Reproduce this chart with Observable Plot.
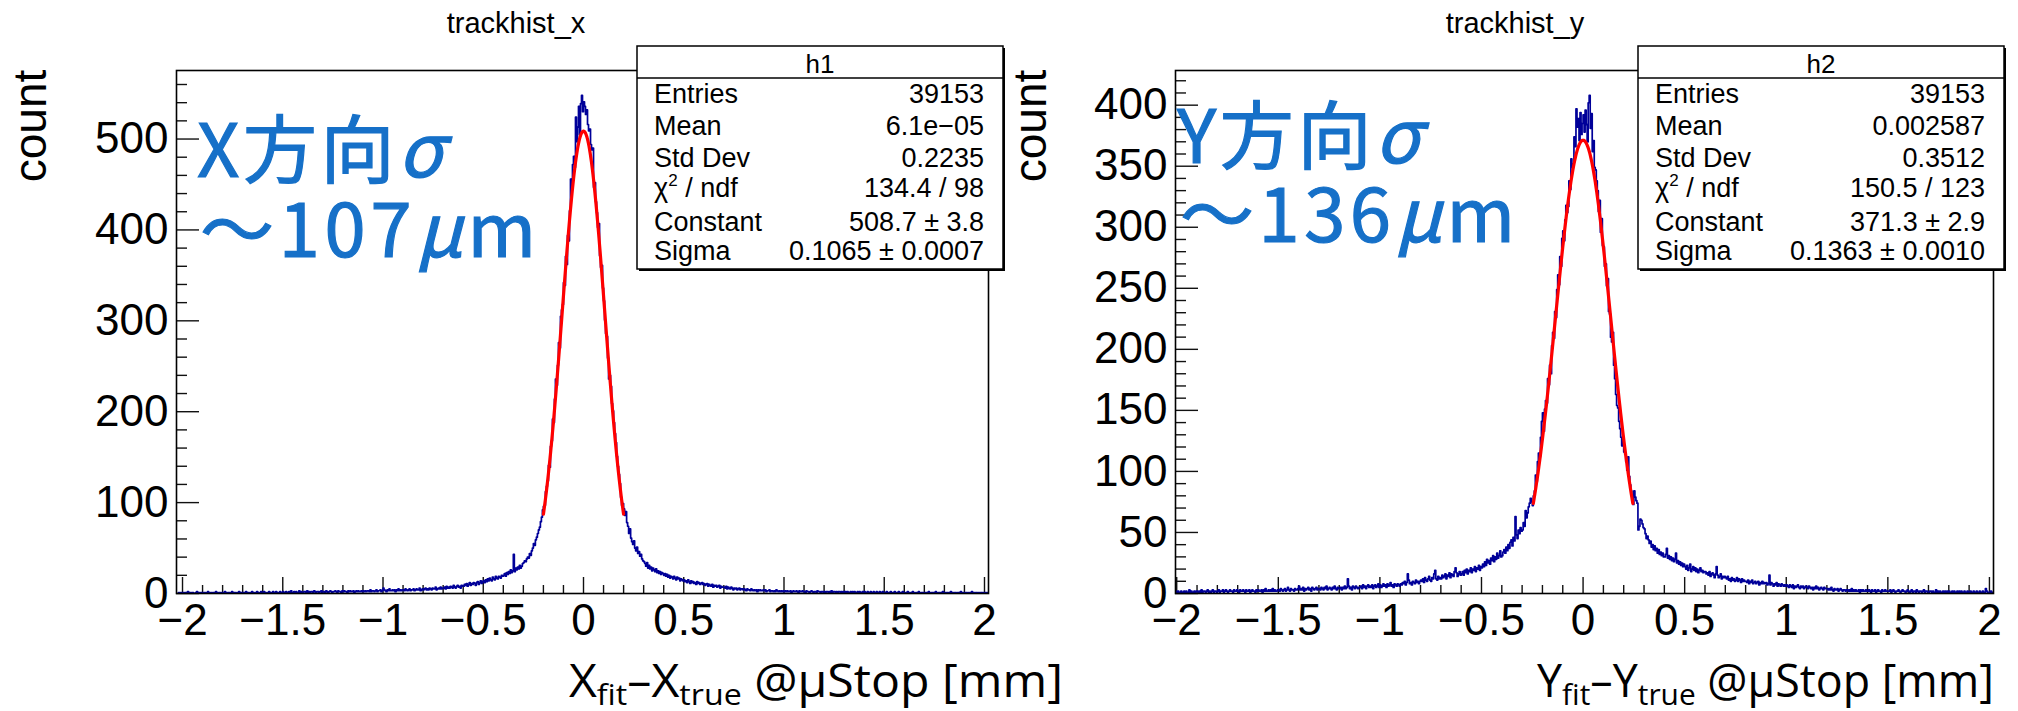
<!DOCTYPE html>
<html>
<head>
<meta charset="utf-8">
<script src="https://cdn.jsdelivr.net/npm/d3@7"></script>
<script src="https://cdn.jsdelivr.net/npm/@observablehq/plot@0.6"></script>
<style>
  body { margin: 0; background: #fff; }
  #wrap { position: relative; width: 2018px; height: 711px; overflow: hidden; background: #fff; }
  #wrap svg { position: absolute; top: 0; }
</style>
</head>
<body>
<div id="wrap"></div>
<script>
// Histogram binning shared by both residual histograms (0.005 mm bins).
const binStart = -2.025;
const binWidth = 0.005;

// trackhist_x : X_fit - X_true, counts per bin from -2.025 mm
const countsX = [
  0,1,0,1,0,
  1,0,1,1,0,2,0,1,0,1,1,0,0,1,2,0,1,0,1,1,
  0,1,1,0,1,2,1,0,1,0,1,1,0,2,1,0,1,1,0,1,
  1,0,2,1,0,1,1,0,1,2,0,1,1,0,1,1,2,0,1,1,
  1,1,0,2,1,1,0,1,1,2,1,0,1,1,2,1,0,1,2,1,
  1,2,1,0,1,1,2,1,1,0,2,1,1,2,1,1,0,2,1,1,
  2,1,1,2,0,1,2,1,3,1,1,2,1,2,1,1,3,1,2,1,
  1,2,2,1,3,1,2,1,2,2,1,3,2,1,2,2,1,2,3,1,
  2,2,1,3,2,1,2,3,2,1,2,2,3,2,1,3,2,2,1,3,
  2,3,2,2,1,3,2,3,2,2,3,1,2,3,2,3,2,2,3,2,
  3,2,3,2,3,3,2,4,2,3,3,2,3,4,2,3,3,4,2,3,
  6,4,3,2,4,3,5,3,3,4,3,4,2,4,3,5,3,4,3,4,
  4,3,5,4,3,4,5,3,4,4,5,3,4,5,4,4,6,3,4,5,
  4,5,6,4,5,4,6,5,4,6,5,5,7,4,5,6,5,7,5,6,
  6,7,5,8,6,7,6,8,7,6,9,7,6,8,9,7,8,6,9,8,
  8,10,9,11,8,10,12,9,11,10,12,11,9,12,13,10,12,14,11,13,
  14,12,15,13,16,14,17,15,14,18,16,15,19,17,16,19,18,17,20,19,
  20,22,19,23,21,24,22,26,23,25,43,24,28,26,29,27,31,28,30,33,
  34,36,35,38,40,39,44,42,47,50,55,53,59,62,66,70,73,79,84,92,
  96,97,112,118,124,141,139,162,168,192,188,214,236,229,251,276,270,305,312,318,
  342,339,371,362,394,388,421,456,448,472,481,469,524,497,513,536,505,539,548,530,
  541,536,527,532,516,509,511,494,488,490,447,452,431,419,403,407,372,359,361,336,
  322,301,286,283,259,236,240,228,209,201,188,176,166,151,140,131,121,106,97,99,
  93,86,90,78,74,66,71,61,57,54,58,50,47,51,44,46,41,43,38,36,
  35,33,30,34,28,31,27,29,25,28,26,24,27,23,25,22,24,21,23,22,
  20,22,19,21,18,20,17,19,18,16,19,17,15,18,16,17,14,16,15,14,
  15,13,14,12,15,13,11,14,12,13,11,12,10,13,11,12,10,11,12,10,
  11,9,10,11,8,10,9,8,10,7,9,8,9,7,8,9,6,8,7,7,
  7,6,8,5,7,6,5,7,6,4,6,5,6,4,5,6,4,5,5,4,
  5,4,3,5,4,4,3,5,4,3,4,3,4,2,4,3,4,3,3,4,
  3,4,2,3,3,4,2,3,3,2,3,2,4,3,2,3,2,3,2,3,
  2,3,2,3,2,2,3,1,2,3,2,2,3,2,1,3,2,2,3,2,
  2,1,3,2,2,1,2,3,2,1,2,2,1,3,2,2,1,2,2,1,
  2,1,2,2,1,2,1,3,1,2,2,1,2,1,2,2,1,2,1,2,
  1,2,1,2,1,1,2,1,2,1,2,1,1,2,1,2,1,1,2,1,
  2,1,1,2,1,1,2,0,1,2,1,1,2,1,1,2,1,0,2,1,
  1,1,2,0,1,1,2,1,1,0,2,1,1,1,2,0,1,1,2,1,
  1,0,1,2,1,1,0,1,2,1,1,0,1,1,2,1,0,1,1,1,
  0,1,1,0,2,1,0,1,1,1,0,2,1,0,1,1,0,1,2,0,
  1,0,1,1,0,1,2,0,1,0,1,1,0,1,1,0,2,1,0,1,
  0,1,1,0,1,0,1,2,0,1,0,1,1,0,1,0,1,1,0,1,
  0,1,0,1
];

// trackhist_y : Y_fit - Y_true, counts per bin from -2.025 mm
const countsY = [
  1,2,1,0,2,
  1,2,1,1,2,0,1,2,1,2,1,1,3,1,2,1,0,2,1,2,
  2,1,2,1,3,1,2,2,1,2,3,1,2,1,2,3,1,2,2,1,
  2,3,1,2,2,3,1,2,3,2,1,2,3,2,2,1,3,2,2,3,
  2,1,3,2,2,3,2,1,3,2,2,3,1,2,3,2,2,1,3,2,
  3,2,2,3,1,3,2,4,2,2,3,2,3,2,4,2,3,2,2,3,
  3,2,4,3,2,3,4,2,3,5,3,2,4,3,3,2,4,3,3,4,
  6,3,4,3,5,2,4,3,4,5,3,4,2,5,4,3,4,5,3,4,
  4,3,5,4,3,5,4,6,3,4,5,4,3,5,4,6,4,3,5,4,
  4,5,3,5,4,6,4,5,12,6,4,5,3,6,5,4,6,5,4,5,
  5,6,4,7,5,6,4,6,7,5,6,5,7,4,6,7,5,6,8,5,
  7,5,6,8,6,7,5,8,6,7,9,6,7,5,8,7,6,8,7,6,
  8,7,9,8,10,7,9,16,11,8,9,7,10,9,8,11,9,10,8,10,
  11,10,12,9,13,11,10,12,14,11,10,13,12,16,19,12,11,14,12,13,
  12,15,13,14,16,12,15,14,17,13,16,15,14,18,21,17,14,16,18,15,
  16,18,15,19,17,20,16,19,18,21,17,20,19,22,18,21,20,23,19,22,
  21,24,22,26,23,28,25,27,24,29,27,31,26,30,28,33,29,31,35,30,
  31,34,36,33,38,35,40,37,42,44,39,46,43,63,48,45,52,49,54,51,
  52,58,55,68,62,66,71,74,78,75,72,80,84,97,92,108,115,112,128,141,
  148,133,151,158,156,176,171,187,180,203,214,209,231,226,249,261,253,276,268,291,
  297,289,306,318,312,317,338,331,356,349,352,374,366,397,382,389,371,394,376,385,
  392,378,396,384,370,402,408,381,393,362,371,349,347,338,330,313,322,296,307,285,
  284,268,270,252,258,231,229,210,206,214,187,176,163,154,152,141,135,128,121,127,
  116,114,108,101,112,96,89,84,77,73,84,79,76,74,52,55,61,60,57,54,
  53,49,45,47,44,41,43,38,40,36,39,35,37,33,36,32,34,31,33,30,
  30,32,37,29,31,28,30,27,29,26,28,33,25,27,24,26,23,25,22,24,
  22,20,23,19,21,24,18,20,22,19,21,18,20,17,19,21,18,19,17,18,
  18,16,17,15,18,14,16,17,15,13,16,22,15,13,14,16,12,14,13,14,
  13,12,14,11,12,10,13,11,12,10,11,13,10,12,11,9,12,10,11,10,
  10,9,11,8,10,9,11,8,9,10,8,9,10,7,9,8,10,8,9,8,
  9,7,8,15,7,9,8,6,8,7,9,6,8,7,6,8,7,6,7,6,
  7,6,5,7,6,5,7,4,6,5,6,7,5,4,6,5,6,4,5,6,
  5,4,6,5,4,5,3,5,4,6,4,5,3,4,5,4,3,5,4,4,
  4,3,4,3,5,3,2,4,3,3,4,2,3,4,3,2,3,3,2,3,
  3,2,3,2,4,2,3,2,3,2,2,3,1,3,2,3,2,2,3,2,
  2,3,2,1,3,2,2,3,1,2,3,2,2,1,3,2,2,3,2,2,
  2,2,3,1,2,3,2,1,2,2,3,2,1,2,3,2,2,1,2,3,
  2,1,2,3,1,2,2,1,3,2,1,2,2,1,2,3,1,2,2,1,
  1,2,2,1,2,1,1,3,1,2,1,2,1,1,2,1,2,1,2,1,
  2,1,1,2,1,2,1,1,2,0,2,1,2,1,1,2,1,1,2,1,
  1,2,1,1,2,1,0,2,1,1,2,1,1,2,1,0,4,2,1,1,
  1,2,1,1
];

// Gaussian fit results (stats box values)
const fitX = { constant: 508.7, sigma: 0.1065, lo: -0.2, hi: 0.2 };
const fitY = { constant: 371.3, sigma: 0.1363, lo: -0.245, hi: 0.245 };

// Axis ticks
const xMajorTicks = [-2, -1.5, -1, -0.5, 0, 0.5, 1, 1.5, 2];
const yMajorTicksX = [0, 100, 200, 300, 400, 500];
const yMajorTicksY = [0, 50, 100, 150, 200, 250, 300, 350, 400];

// Stats box contents
const statsLabels = ["Entries", "Mean", "Std Dev", "χ2 / ndf", "Constant", "Sigma"];
const statsX = ["39153", "6.1e\u221205", "0.2235", "134.4 / 98", "508.7 \u00b1 3.8", "0.1065 \u00b1 0.0007"];
const statsY = ["39153", "0.002587", "0.3512", "150.5 / 123", "371.3 \u00b1 2.9", "0.1363 \u00b1 0.0010"];

const W = 1009, H = 711, MT = 70, MB = 118;
const fmt = d => (d < 0 ? "\u2212" : "") + Math.abs(d);

function histPanel({counts, fit, xDomain, marginLeft, marginRight, yMajor, yMinorStep, offset}) {
  const bins = counts.map((n, i) => ({x: binStart + binWidth * (i + 0.5), n}));
  const yMax = 1.05 * d3.max(counts);
  const fitCurve = d3.range(fit.lo, fit.hi + 1e-9, 0.0025)
    .map(x => ({x, y: fit.constant * Math.exp(-0.5 * (x / fit.sigma) ** 2)}));
  const xMinor = d3.range(-20, 21).map(i => i / 10).filter(v => Math.abs(v * 2 - Math.round(v * 2)) > 1e-6);
  const yMinor = d3.range(0, yMax, yMinorStep).filter(v => !yMajor.includes(v));
  const fw = W - marginLeft - marginRight;
  const fh = H - MT - MB;
  const chart = Plot.plot({
    width: W, height: H,
    marginLeft, marginRight, marginTop: MT, marginBottom: MB,
    style: {fontFamily: "'Liberation Sans', Arial, Helvetica, sans-serif", fontSize: "44px", color: "#000", background: "transparent", overflow: "visible"},
    x: {domain: xDomain, ticks: xMajorTicks, tickSize: 0, tickPadding: 10, tickFormat: fmt, label: null},
    y: {domain: [0, yMax], ticks: yMajor, tickSize: 0, tickPadding: 8, label: null},
    marks: [
      Plot.ruleX(xMinor, {x: d => d, insetTop: fh - 8, stroke: "#111", strokeWidth: 1.4}),
      Plot.ruleX(xMajorTicks, {x: d => d, insetTop: fh - 16, stroke: "#111", strokeWidth: 1.4}),
      Plot.ruleY(yMinor, {y: d => d, insetRight: fw - 11, stroke: "#111", strokeWidth: 1.4}),
      Plot.ruleY(yMajor, {y: d => d, insetRight: fw - 23, stroke: "#111", strokeWidth: 1.4}),
      Plot.line(bins, {x: "x", y: "n", curve: "step", stroke: "#000099", strokeWidth: 1.7, clip: true}),
      Plot.line(fitCurve, {x: "x", y: "y", stroke: "#ff0000", strokeWidth: 3.2}),
      Plot.frame({stroke: "#000", strokeWidth: 1.6})
    ]
  });
  chart.style.left = offset + "px";
  chart.style.position = "absolute";
  chart.style.top = "0px";
  return chart;
}

const wrap = document.getElementById("wrap");
wrap.appendChild(histPanel({counts: countsX, fit: fitX, xDomain: [-2.03, 2.02], marginLeft: 176, marginRight: 21, yMajor: yMajorTicksX, yMinorStep: 20, offset: 0}));
wrap.appendChild(histPanel({counts: countsY, fit: fitY, xDomain: [-2.006, 2.02], marginLeft: 166, marginRight: 25, yMajor: yMajorTicksY, yMinorStep: 10, offset: 1009}));

// Titles, axis captions, stats boxes and annotations
const ov = d3.select(wrap).append("svg")
  .attr("width", 2018).attr("height", 711)
  .style("left", "0px").style("pointer-events", "none");

const helv = "'Liberation Sans', Arial, Helvetica, sans-serif";

function decorate({title, titleX, countX, box, values, histName, capLetter, capX, capLen, noteX, noteBase1, noteBase2, noteLen1, noteLen2, noteDir, noteNum}) {
  ov.append("text").attr("x", titleX).attr("y", 33).attr("text-anchor", "middle")
    .attr("font-family", helv).attr("font-size", 29).text(title);

  ov.append("text").attr("transform", `translate(${countX},126) rotate(-90)`)
    .attr("text-anchor", "middle").attr("font-family", helv).attr("font-size", 46).text("count");

  // stats box
  const g = ov.append("g").attr("font-family", helv).attr("font-size", 27);
  g.append("rect").attr("x", box.x + 2).attr("y", box.y + 2).attr("width", box.w).attr("height", box.h).attr("fill", "#000");
  g.append("rect").attr("x", box.x).attr("y", box.y).attr("width", box.w).attr("height", box.h)
    .attr("fill", "#fff").attr("stroke", "#000").attr("stroke-width", 1.5);
  g.append("line").attr("x1", box.x).attr("x2", box.x + box.w).attr("y1", box.y + 32).attr("y2", box.y + 32)
    .attr("stroke", "#000").attr("stroke-width", 1.5);
  g.append("text").attr("x", box.x + box.w / 2).attr("y", box.y + 27).attr("text-anchor", "middle")
    .attr("font-size", 26).text(histName);
  const rowBase = [57, 89, 121, 151, 185, 214];
  statsLabels.forEach((lab, i) => {
    const t = g.append("text").attr("x", box.x + 17).attr("y", box.y + rowBase[i]);
    if (lab.startsWith("χ2")) {
      t.append("tspan").text("χ");
      t.append("tspan").attr("font-size", 17).attr("dy", -11).text("2");
      t.append("tspan").attr("dy", 11).text(" / ndf");
    } else {
      t.text(lab);
    }
    g.append("text").attr("x", box.x + box.w - 19).attr("y", box.y + rowBase[i])
      .attr("text-anchor", "end").text(values[i]);
  });

  // axis caption with subscripts
  const cap = ov.append("text").attr("x", capX).attr("y", 697)
    .attr("font-family", "'Open Sans', 'Noto Sans', sans-serif").attr("font-size", 45)
    .attr("textLength", capLen).attr("lengthAdjust", "spacingAndGlyphs");
  cap.append("tspan").text(capLetter);
  cap.append("tspan").attr("font-size", 30).attr("dy", 8).text("fit");
  cap.append("tspan").attr("dy", -8).text("\u2013" + capLetter);
  cap.append("tspan").attr("font-size", 30).attr("dy", 8).text("true");
  cap.append("tspan").attr("dy", -8).text(" @\u03bcStop [mm]");

  // resolution annotation
  const blue = "#1670c8";
  const cjk = "'Noto Sans CJK JP', 'Noto Sans CJK SC', sans-serif";
  const l1 = ov.append("text").attr("x", noteX).attr("y", noteBase1)
    .attr("font-family", cjk).attr("font-size", 74).attr("fill", blue)
    .attr("stroke", blue).attr("stroke-width", 1.2)
    .attr("textLength", noteLen1).attr("lengthAdjust", "spacing");
  l1.append("tspan").text(noteDir + "方向");
  l1.append("tspan").attr("font-style", "italic").text("σ");
  const l2 = ov.append("text").attr("x", noteX + 3).attr("y", noteBase2)
    .attr("font-family", cjk).attr("font-size", 74).attr("fill", blue)
    .attr("stroke", blue).attr("stroke-width", 1.2)
    .attr("textLength", noteLen2).attr("lengthAdjust", "spacing");
  l2.append("tspan").text("〜" + noteNum);
  l2.append("tspan").attr("font-style", "italic").text("μ");
  l2.append("tspan").text("m");
}

decorate({title: "trackhist_x", titleX: 516, countX: 46,
  box: {x: 637, y: 46, w: 366, h: 223}, values: statsX, histName: "h1",
  capLetter: "X", capX: 569, capLen: 494,
  noteX: 197, noteBase1: 177, noteBase2: 257, noteLen1: 246, noteLen2: 336, noteDir: "X", noteNum: "107"});
decorate({title: "trackhist_y", titleX: 1515, countX: 1046,
  box: {x: 1638, y: 46, w: 366, h: 223}, values: statsY, histName: "h2",
  capLetter: "Y", capX: 1537, capLen: 457,
  noteX: 1177, noteBase1: 163, noteBase2: 242, noteLen1: 243, noteLen2: 335, noteDir: "Y", noteNum: "136"});
</script>
</body>
</html>
